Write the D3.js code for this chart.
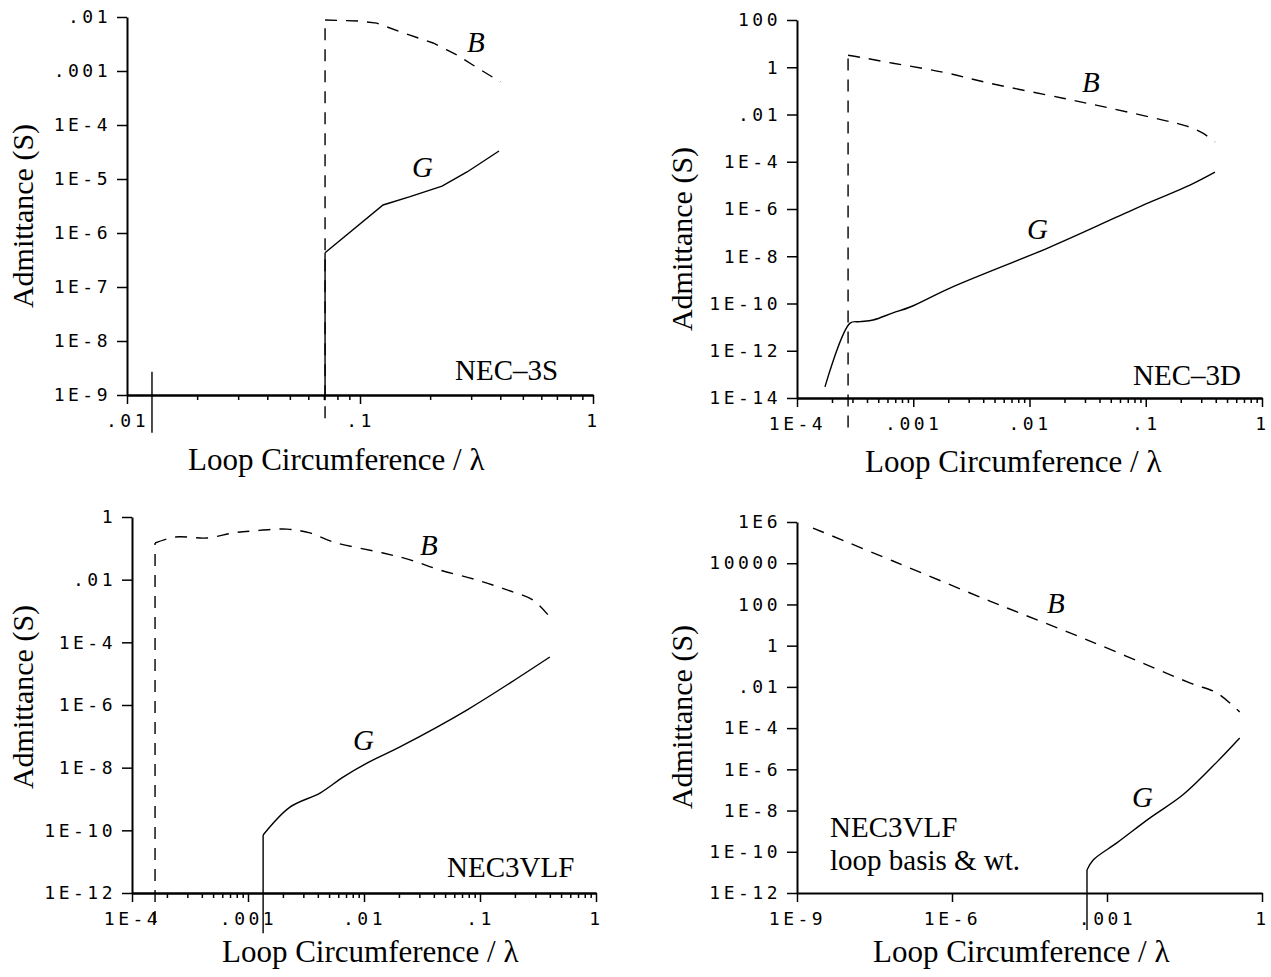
<!DOCTYPE html>
<html>
<head>
<meta charset="utf-8">
<script src="https://cdn.jsdelivr.net/npm/d3@7"></script>
<style>
  body { margin: 0; background: #fff; }
  .serif { font-family: 'Liberation Serif', 'Times New Roman', serif; fill: #000; }
</style>
</head>
<body>
<div class="svg-container"></div>
<script>
// ---- NEC-3S ----
const xTicks3S = [0.01, 0.1, 1];
const xLabels3S = ['.01', '.1', '1'];
const yTicks3S = [1e-2, 1e-3, 1e-4, 1e-5, 1e-6, 1e-7, 1e-8, 1e-9];
const yLabels3S = ['.01', '.001', '1E-4', '1E-5', '1E-6', '1E-7', '1E-8', '1E-9'];
const b3S = [[0.0708, 3.7e-10], [0.0708, 8.8e-3], [0.1, 8.4e-3], [0.118, 7.7e-3], [0.149, 5.3e-3],
  [0.206, 3.3e-3], [0.236, 2.45e-3], [0.261, 1.98e-3], [0.305, 1.29e-3], [0.40, 6.3e-4]];
const g3S = [[0.0708, 8e-10], [0.0708, 4.3e-7], [0.1256, 3.3e-6], [0.164, 4.7e-6], [0.225, 7.4e-6],
  [0.288, 1.35e-5], [0.395, 3.3e-5]];
const stray3S = [[0.0128, 2.7e-9], [0.0128, 2.0e-10]];

// ---- NEC-3D ----
const xTicks3D = [1e-4, 1e-3, 1e-2, 0.1, 1];
const xLabels3D = ['1E-4', '.001', '.01', '.1', '1'];
const yTicks3D = [100, 1, 1e-2, 1e-4, 1e-6, 1e-8, 1e-10, 1e-12, 1e-14];
const yLabels3D = ['100', '1', '.01', '1E-4', '1E-6', '1E-8', '1E-10', '1E-12', '1E-14'];
const b3D = [[2.75e-4, 5.6e-16], [2.75e-4, 3.2], [3.48e-4, 2.65], [6.7e-4, 1.48], [1.8e-3, 0.62],
  [4.57e-3, 0.21], [1.94e-2, 0.049], [4.92e-2, 0.0186], [0.1406, 5.8e-3], [0.226, 3.2e-3],
  [0.31, 1.62e-3], [0.394, 6.8e-4]];
const g3D = [[1.74e-4, 2.95e-14], [2.86e-4, 1.48e-11], [3.48e-4, 1.7e-11], [4.51e-4, 2.0e-11],
  [6.7e-4, 4.0e-11], [9.4e-4, 7.1e-11], [2.07e-3, 4.5e-10], [1.5e-2, 2.45e-8], [5.66e-2, 4.6e-7],
  [0.109, 1.95e-6], [0.24, 1.02e-5], [0.394, 3.6e-5]];

// ---- NEC3VLF ----
const xTicksV = [1e-4, 1e-3, 1e-2, 0.1, 1];
const xLabelsV = ['1E-4', '.001', '.01', '.1', '1'];
const yTicksV = [1, 1e-2, 1e-4, 1e-6, 1e-8, 1e-10, 1e-12];
const yLabelsV = ['1', '.01', '1E-4', '1E-6', '1E-8', '1E-10', '1E-12'];
const bV = [[1.58e-4, 1.1e-13], [1.58e-4, 0.148], [2.35e-4, 0.23], [4.44e-4, 0.214], [7.43e-4, 0.31],
  [1.1e-3, 0.36], [2.17e-3, 0.41], [3.42e-3, 0.31], [5.4e-3, 0.16], [1.46e-2, 0.071], [2.5e-2, 0.043],
  [4.5e-2, 0.0204], [0.094, 9.8e-3], [0.171, 4.7e-3], [0.286, 2.24e-3], [0.40, 6.4e-4]];
const gV = [[1.35e-3, 5.2e-14], [1.35e-3, 7.1e-11], [2.3e-3, 5.5e-10], [4.18e-3, 1.55e-9],
  [6.6e-3, 5.0e-9], [1.06e-2, 1.4e-8], [2.04e-2, 4.6e-8], [7.7e-2, 6.9e-7], [0.40, 3.4e-5]];

// ---- NEC3VLF loop basis & wt. ----
const xTicksL = [1e-9, 1e-6, 1e-3, 1];
const xLabelsL = ['1E-9', '1E-6', '.001', '1'];
const yTicksL = [1e6, 1e4, 100, 1, 1e-2, 1e-4, 1e-6, 1e-8, 1e-10, 1e-12];
const yLabelsL = ['1E6', '10000', '100', '1', '.01', '1E-4', '1E-6', '1E-8', '1E-10', '1E-12'];
const bL = [[2.04e-9, 5.1e5], [7.2e-8, 1.28e4], [5.4e-6, 146], [4.7e-4, 1.67], [0.041, 0.0153],
  [0.135, 5.0e-3], [0.37, 6.0e-4]];
const gL = [[4.1e-4, 1.6e-14], [4.1e-4, 1.3e-11], [5.4e-4, 4.0e-11], [1.55e-3, 2.7e-10],
  [6.8e-3, 4.4e-9], [2.95e-2, 5.8e-8], [0.135, 2.3e-6], [0.37, 3.3e-5]];

// layout of the four panels
const panels = [
  { xDomain: [0.01, 1], xRange: [127, 593], yDomain: [1e-9, 1e-2], yRange: [395, 17], minor: true,
    xTicks: xTicks3S, xLabels: xLabels3S, yTicks: yTicks3S, yLabels: yLabels3S,
    b: b3S, g: g3S, extra: [stray3S], curve: d3.curveLinear,
    xTitle: [188, 470], yTitle: [33, 216], bPos: [467, 52], gPos: [412, 177],
    names: [['NEC\u20133S', 455, 380]] },
  { xDomain: [1e-4, 1], xRange: [797, 1262], yDomain: [1e-14, 100], yRange: [398, 20], minor: true,
    xTicks: xTicks3D, xLabels: xLabels3D, yTicks: yTicks3D, yLabels: yLabels3D,
    b: b3D, g: g3D, extra: [], curve: d3.curveCatmullRom.alpha(0.5),
    xTitle: [865, 472], yTitle: [692, 239], bPos: [1082, 92], gPos: [1027, 239],
    names: [['NEC\u20133D', 1133, 385]] },
  { xDomain: [1e-4, 1], xRange: [132, 596], yDomain: [1e-12, 1], yRange: [893, 517], minor: true,
    xTicks: xTicksV, xLabels: xLabelsV, yTicks: yTicksV, yLabels: yLabelsV,
    b: bV, g: gV, extra: [], curve: d3.curveCatmullRom.alpha(0.5),
    xTitle: [222, 962], yTitle: [33, 697], bPos: [420, 555], gPos: [353, 750],
    names: [['NEC3VLF', 447, 877]] },
  { xDomain: [1e-9, 1], xRange: [797, 1262], yDomain: [1e-12, 1e6], yRange: [893, 522], minor: false,
    xTicks: xTicksL, xLabels: xLabelsL, yTicks: yTicksL, yLabels: yLabelsL,
    b: bL, g: gL, extra: [], curve: d3.curveCatmullRom.alpha(0.5),
    xTitle: [873, 962], yTitle: [692, 717], bPos: [1047, 613], gPos: [1132, 807],
    names: [['NEC3VLF', 830, 837], ['loop basis & wt.', 830, 870]] }
];

const width = 1271;
const height = 977;

const svg = d3.select('.svg-container')
  .append('svg')
  .attr('width', width)
  .attr('height', height);

svg.append('rect')
  .attr('width', width)
  .attr('height', height)
  .style('fill', '#fff');

// plotter-style tick labels
const styleAxis = (sel) => {
  sel.attr('font-family', "'DejaVu Sans Mono', monospace")
    .attr('font-size', 18);
  sel.select('.domain').attr('stroke-width', 2);
  sel.selectAll('.tick line').attr('stroke-width', 1.5);
  sel.selectAll('.tick text').attr('letter-spacing', 3.5).attr('fill', '#000');
};

const renderPanel = (p) => {
  const x = d3.scaleLog().domain(p.xDomain).range(p.xRange);
  const y = d3.scaleLog().domain(p.yDomain).range(p.yRange);
  const straight = d3.line().x(d => x(d[0])).y(d => y(d[1]));
  const smooth = d3.line().x(d => x(d[0])).y(d => y(d[1])).curve(p.curve);
  const g = svg.append('g');

  // a series may start with a vertical jump: draw that part straight, the rest smooth
  const drawSeries = (data, dash) => {
    let k = 0;
    while (k + 1 < data.length && data[k + 1][0] === data[0][0]) k++;
    const parts = k > 0 ? [[data.slice(0, k + 1), straight], [data.slice(k), smooth]] : [[data, smooth]];
    parts.forEach(([pts, gen]) => {
      g.append('path')
        .attr('d', gen(pts))
        .attr('fill', 'none')
        .attr('stroke', '#000')
        .attr('stroke-width', 1.4)
        .attr('stroke-dasharray', dash);
    });
  };

  // minor x ticks
  if (p.minor) {
    const minor = x.ticks().filter(t => !p.xTicks.some(m => Math.abs(m - t) / m < 1e-6));
    g.append('g')
      .attr('transform', `translate(0,${p.yRange[0]})`)
      .call(d3.axisBottom(x).tickValues(minor).tickSize(5).tickSizeOuter(0).tickFormat(''))
      .call(styleAxis);
  }

  // major x ticks with labels
  g.append('g')
    .attr('transform', `translate(0,${p.yRange[0]})`)
    .call(d3.axisBottom(x).tickValues(p.xTicks).tickSize(9).tickSizeOuter(0).tickPadding(10)
      .tickFormat((d, i) => p.xLabels[i]))
    .call(styleAxis);

  // y axis, ticks pointing outward
  g.append('g')
    .attr('transform', `translate(${p.xRange[0]},0)`)
    .call(d3.axisLeft(y).tickValues(p.yTicks).tickSize(10).tickSizeOuter(0).tickPadding(6)
      .tickFormat((d, i) => p.yLabels[i]))
    .call(styleAxis);

  // susceptance B (dashed) and conductance G (solid)
  drawSeries(p.b, '12,9');
  drawSeries(p.g, null);
  p.extra.forEach(seg => drawSeries(seg, null));

  // axis titles
  g.append('text')
    .attr('class', 'serif')
    .attr('x', p.xTitle[0])
    .attr('y', p.xTitle[1])
    .attr('font-size', 31)
    .text('Loop Circumference / \u03bb');

  g.append('text')
    .attr('class', 'serif')
    .attr('transform', `translate(${p.yTitle[0]},${p.yTitle[1]}) rotate(-90)`)
    .attr('text-anchor', 'middle')
    .attr('font-size', 30)
    .text('Admittance (S)');

  // curve labels
  g.append('text')
    .attr('class', 'serif')
    .attr('x', p.bPos[0])
    .attr('y', p.bPos[1])
    .attr('font-size', 29)
    .attr('font-style', 'italic')
    .text('B');

  g.append('text')
    .attr('class', 'serif')
    .attr('x', p.gPos[0])
    .attr('y', p.gPos[1])
    .attr('font-size', 29)
    .attr('font-style', 'italic')
    .text('G');

  p.names.forEach(n => {
    g.append('text')
      .attr('class', 'serif')
      .attr('x', n[1])
      .attr('y', n[2])
      .attr('font-size', 29)
      .text(n[0]);
  });
};

panels.forEach(renderPanel);
</script>
</body>
</html>
